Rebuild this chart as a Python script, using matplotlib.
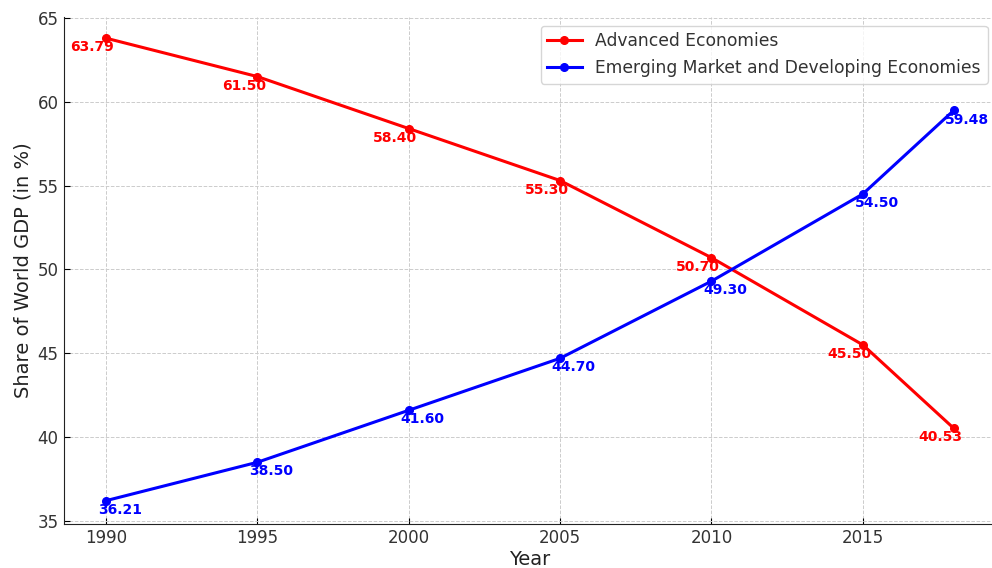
import matplotlib
matplotlib.use('Agg')
import matplotlib.pyplot as plt

# share of world GDP, in percent
years = [1990, 1995, 2000, 2005, 2010, 2015, 2018]
advanced = [63.79, 61.50, 58.40, 55.30, 50.70, 45.50, 40.53]
emerging = [36.21, 38.50, 41.60, 44.70, 49.30, 54.50, 59.48]

fig = plt.figure(figsize=(9.92, 5.68), dpi=100)
ax = fig.add_axes([0.0641, 0.0775, 0.940, 0.8925])

ax.plot(years, advanced, color='red', marker='o', markersize=5.5, linewidth=2.2,
        label='Advanced Economies')
ax.plot(years, emerging, color='blue', marker='o', markersize=5.5, linewidth=2.2,
        label='Emerging Market and Developing Economies')

# value labels under each point
for x, v in zip(years, advanced):
    ax.annotate(f'{v:.2f}', (x, v), xytext=(6, -1.5), textcoords='offset points',
                ha='right', va='top', color='red', fontsize=10, fontweight='bold')
for x, v in zip(years, emerging):
    ax.annotate(f'{v:.2f}', (x, v), xytext=(-6, -1.5), textcoords='offset points',
                ha='left', va='top', color='blue', fontsize=10, fontweight='bold')

ax.set_xticks([1990, 1995, 2000, 2005, 2010, 2015])
ax.set_yticks([35, 40, 45, 50, 55, 60, 65])
ax.set_xlim(1988.6, 2019.4)
ax.set_ylim(34.82, 65.05)
ax.set_xlabel('Year', fontsize=14, color='#222222', labelpad=2)
ax.set_ylabel('Share of World GDP (in %)', fontsize=14, color='#222222')
ax.tick_params(direction='in', labelsize=12, labelcolor='#333333', length=4)
ax.grid(True, linestyle='--', color='#cccccc', linewidth=0.7)
ax.spines['top'].set_visible(False)
ax.spines['right'].set_visible(False)
ax.spines['left'].set_color('#222222')
ax.spines['bottom'].set_color('#222222')

leg = ax.legend(loc='upper right', fontsize=12.3, frameon=True)
for t in leg.get_texts():
    t.set_color('#333333')

plt.savefig('out.png', dpi=100)
